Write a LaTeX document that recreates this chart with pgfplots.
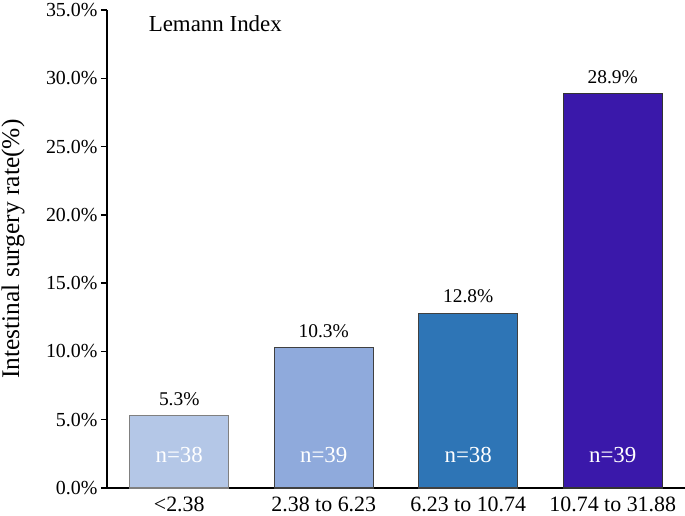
\documentclass[border=0pt]{standalone}
\usepackage{fontspec}
\setmainfont{Liberation Serif}
\usepackage{pgfplots}
\pgfplotsset{compat=1.18}
\definecolor{c1}{HTML}{B4C7E7}
\definecolor{c2}{HTML}{8FAADC}
\definecolor{c3}{HTML}{2E75B6}
\definecolor{c4}{HTML}{3A18AA}
\begin{document}
\begin{tikzpicture}
\begin{axis}[name=ax, scale only axis, width=578bp, height=478bp,
  xmin=-0.5, xmax=3.5, ymin=0, ymax=35,
  axis x line=bottom, axis y line=left,
  axis line style={-, line width=1.4bp, black},
  xtick={0,1,2,3},
  xticklabels={<2.38, 2.38 to 6.23, 6.23 to 10.74, 10.74 to 31.88},
  x tick style={draw=none},
  ytick={0,5,...,35},
  y tick style={line width=1.4bp, black},
  tick align=outside, major tick length=6bp,
  yticklabel={\pgfmathprintnumber[fixed,fixed zerofill,precision=1]{\tick}\%},
  /pgf/number format/assume math mode=true,
  yticklabel style={font=\fontsize{20}{22}\selectfont},
  xticklabel style={font=\fontsize{22}{24}\selectfont, inner sep=1bp, yshift=-2bp},
  ybar, bar width=99bp, bar shift=0pt,
  nodes near coords={\pgfmathprintnumber[fixed,fixed zerofill,precision=1]{\pgfplotspointmeta}\%},
  every node near coord/.append style={font=\fontsize{19.5}{22}\selectfont, black, yshift=6bp},
  clip=false,
]
\addplot[fill=c1, draw=gray, line width=1.3bp] coordinates {(0,5.3)};
\addplot[fill=c2, draw=black!75, line width=1.3bp] coordinates {(1,10.3)};
\addplot[fill=c3, draw=black!75, line width=1.3bp] coordinates {(2,12.8)};
\addplot[fill=c4, draw=black!80, line width=1.3bp] coordinates {(3,28.9)};
\node[white, font=\fontsize{23}{26}\selectfont] at (axis cs:0,2.4) {n=38};
\node[white, font=\fontsize{23}{26}\selectfont] at (axis cs:1,2.4) {n=39};
\node[white, font=\fontsize{23}{26}\selectfont] at (axis cs:2,2.4) {n=38};
\node[white, font=\fontsize{23}{26}\selectfont] at (axis cs:3,2.4) {n=39};
\node[anchor=west, font=\fontsize{23}{26}\selectfont, inner sep=0pt] at (rel axis cs:0.072,0.972) {Lemann Index};
\end{axis}
\node[rotate=90, font=\fontsize{25.5}{28}\selectfont] at ([xshift=-94bp,yshift=0bp]ax.west) {Intestinal surgery rate(\%)};
\pgfresetboundingbox
\useasboundingbox ([xshift=-107bp,yshift=-28bp]ax.south west) rectangle ([yshift=10bp]ax.north east);
\end{tikzpicture}
\end{document}
